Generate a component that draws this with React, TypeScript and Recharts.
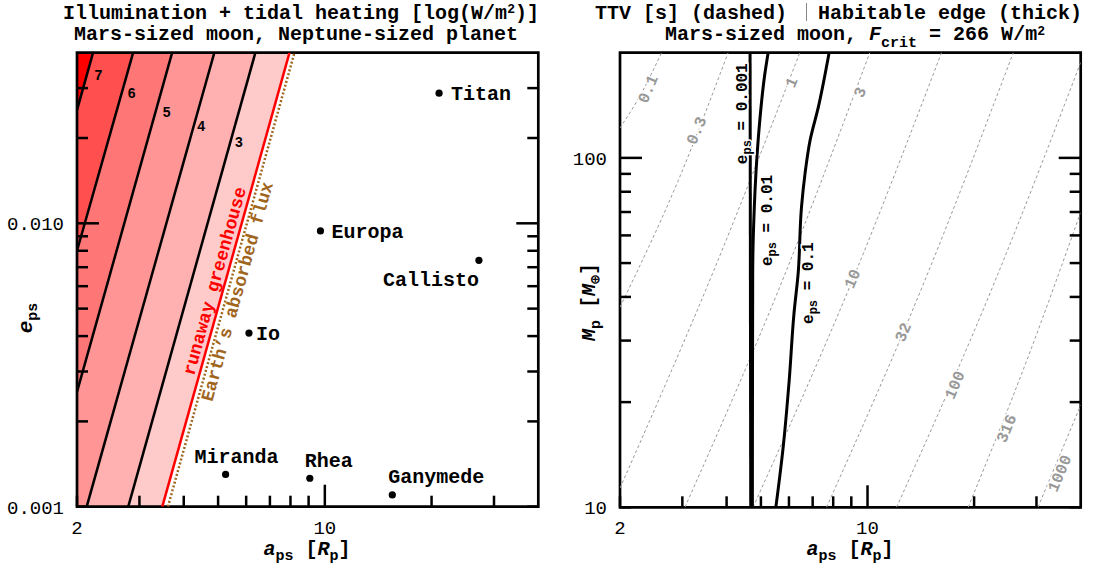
import React from "react";
import {
  ComposedChart,
  Area,
  Line,
  Scatter,
  XAxis,
  YAxis,
  ReferenceArea,
} from "recharts";

const MONO = "'Liberation Mono', 'DejaVu Sans Mono', monospace";
const SANS = "'Liberation Sans', 'DejaVu Sans', sans-serif";

// axis ranges
const A_RANGE = [2, 40];
const E_RANGE = [0.001, 0.04];
const M_RANGE = [10, 200];

// ticks
const aTicks = [2, 3, 4, 5, 6, 7, 8, 9, 10, 20, 30];
const aMajor = [10];
const aLabels = [2, 10];
const eTicks = [0.001, 0.002, 0.003, 0.004, 0.005, 0.006, 0.007, 0.008, 0.009, 0.01, 0.02, 0.03];
const eMajor = [0.01];
const eLabels = [0.001, 0.01];
const mTicks = [10, 20, 30, 40, 50, 60, 70, 80, 90, 100];
const mMajor = [100];
const mLabels = [10, 100];

// left panel: heating contours, each line given by its two ends (a, e)
const heatLevels = ["7", "6", "5", "4", "3"];
const heatColors = ["#ff0000", "#ff4f4f", "#ff7676", "#ff9595", "#ffb0b0"];
const heatLineA = [[2, 2.22], [2, 2.88], [2, 3.71], [2.13, 4.88], [2.79, 6.37]];
const heatLineE = [[0.0251, 0.04], [0.008, 0.04], [0.00254, 0.04], [0.001, 0.04], [0.001, 0.04]];
const heatLabelA = [2.3, 2.85, 3.58, 4.48, 5.72];
const heatLabelE = [0.0333, 0.0288, 0.0247, 0.022, 0.0194];

const greenhouseA = [3.48, 7.95];
const greenhouseE = [0.001, 0.04];
const earthFluxA = [3.61, 8.21];
const earthFluxE = [0.001, 0.04];

const moonNames = ["Titan", "Europa", "Callisto", "Io", "Miranda", "Rhea", "Ganymede"];
const moonA = [21.0, 9.72, 27.2, 6.11, 5.25, 9.07, 15.5];
const moonE = [0.0288, 0.0094, 0.0074, 0.0041, 0.0013, 0.00126, 0.0011];

// right panel: TTV contours (dashed)
const ttvLevels = ["0.1", "0.3", "1", "3", "10", "32", "100", "316", "1000"];
const ttvA = [
  [2, 2.32, 2.62],
  [2, 2.92, 4.04],
  [2, 3.68, 6.44],
  [3.05, 5.75, 10.15],
  [4.75, 9.06, 16.18],
  [7.66, 14.52, 25.8],
  [12.08, 22.66, 40],
  [19.24, 28.2, 40],
  [30.3, 40],
];
const ttvM = [
  [121.8, 155.7, 200],
  [37.4, 86.1, 200],
  [11.35, 47.6, 200],
  [10, 44.6, 200],
  [10, 44.6, 200],
  [10, 44.6, 200],
  [10, 43.2, 187.6],
  [10, 26.4, 69.9],
  [10, 19.6],
];
const ttvLabelA = [2.4, 3.29, 6.1, 9.52, 9.06, 12.6, 17.64, 24.7, 34.9];
const ttvLabelM = [157.4, 119.7, 164.4, 154, 45.1, 31.7, 22.4, 16.8, 12.5];

// right panel: habitable edge (thick), listed from top to bottom
const edgeEcc = ["0.001", "0.01", "0.1"];
const edgeA = [
  [4.66, 4.68],
  [5.24, 5.13, 4.91, 4.79, 4.74, 4.73],
  [7.79, 7.26, 6.88, 6.66, 6.51, 6.37, 6.2, 6.01, 5.78, 5.51],
];
const edgeM = [
  [200, 10],
  [200, 174, 112, 72.3, 46.7, 10],
  [200, 139.5, 112, 90, 72.3, 46.7, 35.9, 23.1, 14.9, 10],
];
const edgeLabelA = [4.41, 5.19, 6.8];
const edgeLabelM = [133.8, 66.2, 43.8];

const moonPlace: Record<string, { dx: number; dy: number; anchor: string }> = {
  Titan: { dx: 12, dy: 7, anchor: "start" },
  Europa: { dx: 11, dy: 7, anchor: "start" },
  Callisto: { dx: 0, dy: 26, anchor: "end" },
  Io: { dx: 7, dy: 7, anchor: "start" },
  Miranda: { dx: 11, dy: -11, anchor: "middle" },
  Rhea: { dx: 19, dy: -11, anchor: "middle" },
  Ganymede: { dx: 44, dy: -12, anchor: "middle" },
};

const pts = (xs: number[], ys: number[]) => xs.map((x, i) => ({ x, y: ys[i] }));

// area left of a line, filled up to the top edge
function leftOf(as: number[], es: number[]) {
  const out: { x: number; r: number[] }[] = [];
  if (as[0] > A_RANGE[0]) out.push({ x: A_RANGE[0], r: [E_RANGE[0], E_RANGE[1]] });
  as.forEach((a, i) => out.push({ x: a, r: [es[i], E_RANGE[1]] }));
  return out;
}

type Side = "bottom" | "top" | "left" | "right";
function makeTick(side: Side, majors: number[], labels: number[] = [], fmt: (v: number) => string = String) {
  return (props: any) => {
    const { x, y, payload } = props;
    const v: number = payload.value;
    const len = majors.includes(v) ? 22 : 11;
    const end =
      side === "bottom" ? [x, y - len] : side === "top" ? [x, y + len] : side === "left" ? [x + len, y] : [x - len, y];
    const show = labels.includes(v);
    return (
      <g>
        <line x1={x} y1={y} x2={end[0]} y2={end[1]} stroke="#000" strokeWidth={2.5} />
        {show && side === "bottom" && (
          <text x={x} y={y + 27} textAnchor="middle" fontFamily={MONO} fontSize={19} fill="#000">
            {fmt(v)}
          </text>
        )}
        {show && side === "left" && (
          <text x={x - 13} y={y + 7} textAnchor="end" fontFamily={MONO} fontSize={19} fill="#000">
            {fmt(v)}
          </text>
        )}
      </g>
    );
  };
}

const axisBase = {
  type: "number" as const,
  scale: "log" as const,
  allowDataOverflow: true,
  interval: 0 as const,
  tickLine: false,
  axisLine: false,
  tickSize: 0,
  tickMargin: 0,
};

const MoonMark = (p: any) => {
  const pl = moonPlace[p.payload.name];
  return (
    <g>
      <circle cx={p.cx} cy={p.cy} r={3.6} fill="#000" />
      <text x={p.cx + pl.dx} y={p.cy + pl.dy} textAnchor={pl.anchor} fontFamily={MONO} fontWeight="bold" fontSize={20} fill="#000">
        {p.payload.name}
      </text>
    </g>
  );
};

const LevelMark = (p: any) => (
  <text x={p.cx} y={p.cy + 5} textAnchor="middle" fontFamily={SANS} fontWeight="bold" fontSize={14} fill="#000">
    {p.payload.label}
  </text>
);

const SlopeText = (p: any) => (
  <text
    x={p.cx}
    y={p.cy + 6}
    textAnchor="middle"
    transform={`rotate(-74.4 ${p.cx} ${p.cy})`}
    fontFamily={MONO}
    fontWeight="bold"
    fontSize={18}
    fill={p.payload.color}
  >
    {p.payload.label}
  </text>
);

const TtvMark = (p: any) => (
  <text
    x={p.cx}
    y={p.cy + 5}
    textAnchor="middle"
    transform={`rotate(-67 ${p.cx} ${p.cy})`}
    fontFamily={MONO}
    fontWeight="bold"
    fontSize={16}
    fill="#999999"
    stroke="#fff"
    strokeWidth={3}
    paintOrder="stroke"
  >
    {p.payload.label}
  </text>
);

const EdgeMark = (p: any) => (
  <text
    x={p.cx}
    y={p.cy + 5}
    textAnchor="middle"
    transform={`rotate(-90 ${p.cx} ${p.cy})`}
    fontFamily={MONO}
    fontWeight="bold"
    fontSize={16}
    fill="#000"
    stroke="#fff"
    strokeWidth={3}
    paintOrder="stroke"
  >
    e
    <tspan fontSize={12} dy={4}>
      ps
    </tspan>
    <tspan dy={-4}> = {p.payload.label}</tspan>
  </text>
);

function HeatingPanel() {
  const regions = [
    { key: "gh", fill: "#ffcaca", data: leftOf(greenhouseA, greenhouseE) },
    ...heatLevels
      .map((lv, i) => ({ key: lv, fill: heatColors[i], data: leftOf(heatLineA[i], heatLineE[i]) }))
      .reverse(),
  ];
  const levelLabels = heatLevels.map((label, i) => ({ x: heatLabelA[i], y: heatLabelE[i], label }));
  const moons = moonNames.map((name, i) => ({ x: moonA[i], y: moonE[i], name }));
  const slopeLabels = [
    { x: 4.88, y: 0.00626, label: "runaway greenhouse", color: "#ff0000" },
    { x: 5.65, y: 0.00575, label: "Earth\u2019s absorbed flux", color: "#a0661e" },
  ];
  return (
    <ComposedChart width={560} height={568} margin={{ top: 51.7, right: 20.7, bottom: 60.3, left: 76 }}>
      {regions.map((r) => (
        <Area
          key={r.key}
          data={r.data}
          dataKey="r"
          type="linear"
          fill={r.fill}
          fillOpacity={1}
          stroke="none"
          dot={false}
          activeDot={false}
          isAnimationActive={false}
        />
      ))}
      {heatLevels.map((lv, i) => (
        <Line
          key={`l${lv}`}
          data={pts(heatLineA[i], heatLineE[i])}
          dataKey="y"
          type="linear"
          stroke="#000"
          strokeWidth={2.5}
          dot={false}
          activeDot={false}
          isAnimationActive={false}
        />
      ))}
      <Line
        data={pts(earthFluxA, earthFluxE)}
        dataKey="y"
        type="linear"
        stroke="#a0661e"
        strokeWidth={2.5}
        strokeDasharray="2 2"
        dot={false}
        activeDot={false}
        isAnimationActive={false}
      />
      <Line
        data={pts(greenhouseA, greenhouseE)}
        dataKey="y"
        type="linear"
        stroke="#ff0000"
        strokeWidth={2.5}
        dot={false}
        activeDot={false}
        isAnimationActive={false}
      />
      <Scatter data={levelLabels} shape={LevelMark} isAnimationActive={false} />
      <Scatter data={slopeLabels} shape={SlopeText} isAnimationActive={false} />
      <Scatter data={moons} shape={MoonMark} isAnimationActive={false} />
      <XAxis {...axisBase} dataKey="x" domain={A_RANGE} ticks={aTicks} height={1} tick={makeTick("bottom", aMajor, aLabels)} />
      <XAxis {...axisBase} xAxisId="top" orientation="top" domain={A_RANGE} ticks={aTicks} height={1} tick={makeTick("top", aMajor)} />
      <YAxis
        {...axisBase}
        dataKey="y"
        domain={E_RANGE}
        ticks={eTicks}
        width={1}
        tick={makeTick("left", eMajor, eLabels, (v) => v.toFixed(3))}
      />
      <YAxis {...axisBase} yAxisId="right" orientation="right" domain={E_RANGE} ticks={eTicks} width={1} tick={makeTick("right", eMajor)} />
      <ReferenceArea
        x1={A_RANGE[0]}
        x2={A_RANGE[1]}
        y1={E_RANGE[0]}
        y2={E_RANGE[1]}
        fill="none"
        stroke="#000"
        strokeWidth={2.7}
        ifOverflow="visible"
      />
    </ComposedChart>
  );
}

function TtvPanel() {
  const ttvLabels = ttvLevels.map((label, i) => ({ x: ttvLabelA[i], y: ttvLabelM[i], label }));
  const edgeLabels = edgeEcc.map((label, i) => ({ x: edgeLabelA[i], y: edgeLabelM[i], label }));
  return (
    <ComposedChart width={545} height={568} margin={{ top: 51.7, right: 23.3, bottom: 59.7, left: 59 }}>
      {ttvLevels.map((lv, i) => (
        <Line
          key={`t${lv}`}
          data={pts(ttvA[i], ttvM[i])}
          dataKey="y"
          type="monotone"
          stroke="#9a9a9a"
          strokeWidth={1}
          strokeDasharray="3 2.5"
          dot={false}
          activeDot={false}
          isAnimationActive={false}
        />
      ))}
      <Scatter data={ttvLabels} shape={TtvMark} isAnimationActive={false} />
      {edgeEcc.map((ecc, i) => (
        <Line
          key={`e${ecc}`}
          data={pts(edgeA[i], edgeM[i])}
          dataKey="y"
          type="monotoneY"
          stroke="#000"
          strokeWidth={3}
          dot={false}
          activeDot={false}
          isAnimationActive={false}
        />
      ))}
      <Scatter data={edgeLabels} shape={EdgeMark} isAnimationActive={false} />
      <XAxis {...axisBase} dataKey="x" domain={A_RANGE} ticks={aTicks} height={1} tick={makeTick("bottom", aMajor, aLabels)} />
      <XAxis {...axisBase} xAxisId="top" orientation="top" domain={A_RANGE} ticks={aTicks} height={1} tick={makeTick("top", aMajor)} />
      <YAxis {...axisBase} dataKey="y" domain={M_RANGE} ticks={mTicks} width={1} tick={makeTick("left", mMajor, mLabels)} />
      <YAxis {...axisBase} yAxisId="right" orientation="right" domain={M_RANGE} ticks={mTicks} width={1} tick={makeTick("right", mMajor)} />
      <ReferenceArea
        x1={A_RANGE[0]}
        x2={A_RANGE[1]}
        y1={M_RANGE[0]}
        y2={M_RANGE[1]}
        fill="none"
        stroke="#000"
        strokeWidth={2.7}
        ifOverflow="visible"
      />
    </ComposedChart>
  );
}

function Titles() {
  const t = { fontFamily: MONO, fontWeight: "bold" as const, fontSize: 20, fill: "#000" };
  return (
    <svg width={1105} height={568} style={{ position: "absolute", left: 0, top: 0, pointerEvents: "none" }}>
      <text x={301} y={18.5} textAnchor="middle" {...t}>
        Illumination + tidal heating [log(W/m
        <tspan fontSize={13} dy={-6}>2</tspan>
        <tspan dy={6}>)]</tspan>
      </text>
      <text x={296} y={39.5} textAnchor="middle" {...t}>
        Mars-sized moon, Neptune-sized planet
      </text>
      <text x={787} y={18.5} textAnchor="end" {...t}>
        TTV [s] (dashed)
      </text>
      <line x1={806.5} y1={3} x2={806.5} y2={21} stroke="#888" strokeWidth={1} />
      <text x={818} y={18.5} textAnchor="start" {...t}>
        Habitable edge (thick)
      </text>
      <text x={855} y={39.5} textAnchor="middle" {...t}>
        Mars-sized moon, <tspan fontStyle="italic">F</tspan>
        <tspan fontSize={15} dy={7}>crit</tspan>
        <tspan dy={-7}> = 266 W/m</tspan>
        <tspan fontSize={13} dy={-5}>2</tspan>
      </text>

      <text x={307} y={555} textAnchor="middle" {...t}>
        <tspan fontStyle="italic">a</tspan>
        <tspan fontSize={15} dy={5}>ps</tspan>
        <tspan dy={-5}> [</tspan>
        <tspan fontStyle="italic">R</tspan>
        <tspan fontSize={15} dy={5}>p</tspan>
        <tspan dy={-5}>]</tspan>
      </text>
      <text x={850} y={555} textAnchor="middle" {...t}>
        <tspan fontStyle="italic">a</tspan>
        <tspan fontSize={15} dy={5}>ps</tspan>
        <tspan dy={-5}> [</tspan>
        <tspan fontStyle="italic">R</tspan>
        <tspan fontSize={15} dy={5}>p</tspan>
        <tspan dy={-5}>]</tspan>
      </text>
      <text x={32} y={318} textAnchor="middle" transform="rotate(-90 32 318)" {...t} fontSize={21}>
        <tspan fontStyle="italic">e</tspan>
        <tspan fontSize={15} dy={5}>ps</tspan>
      </text>
      <text x={595} y={302} textAnchor="middle" transform="rotate(-90 595 302)" {...t}>
        <tspan fontStyle="italic">M</tspan>
        <tspan fontSize={15} dy={5}>p</tspan>
        <tspan dy={-5}> [</tspan>
        <tspan fontStyle="italic">M</tspan>
        <tspan fontSize={15} dy={5}>{"\u2295"}</tspan>
        <tspan dy={-5}>]</tspan>
      </text>
    </svg>
  );
}

export default function App() {
  return (
    <div style={{ position: "absolute", left: 0, top: 0, width: 1105, height: 568, background: "#fff" }}>
      <div style={{ position: "absolute", left: 0, top: 0 }}>
        <HeatingPanel />
      </div>
      <div style={{ position: "absolute", left: 560, top: 0 }}>
        <TtvPanel />
      </div>
      <Titles />
    </div>
  );
}
